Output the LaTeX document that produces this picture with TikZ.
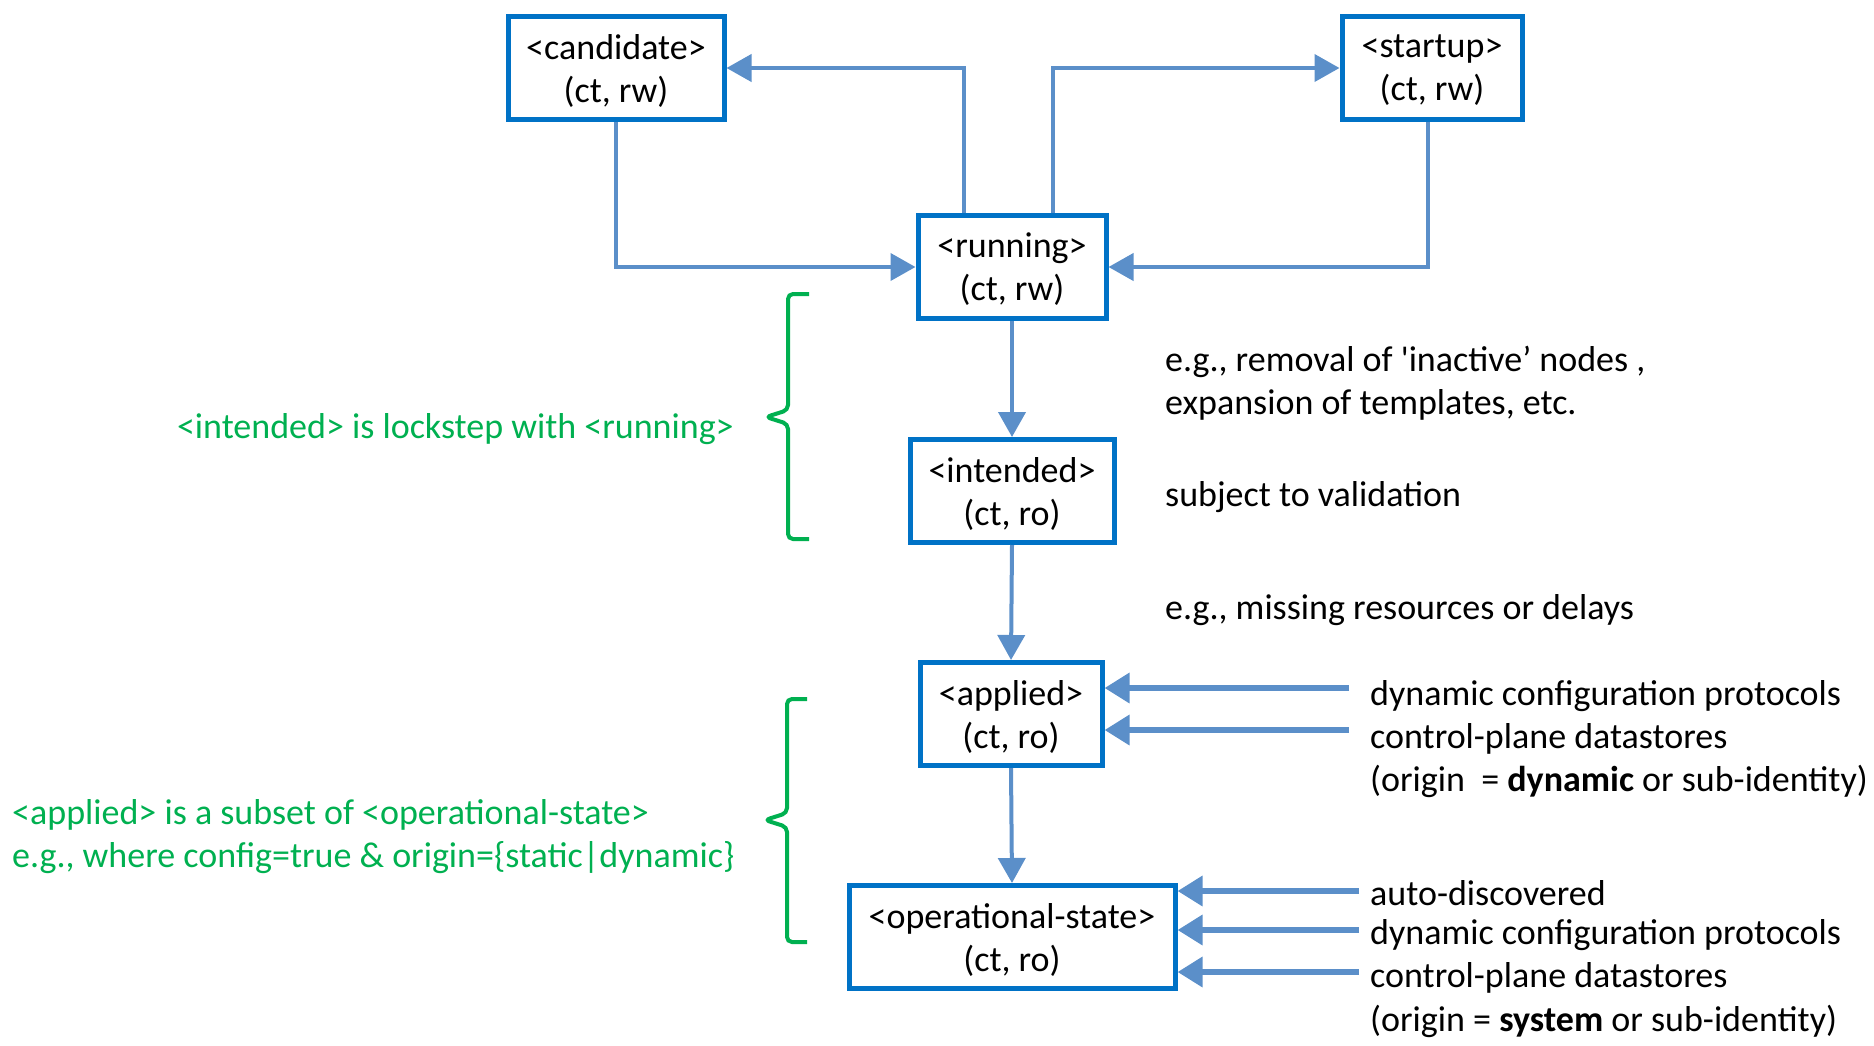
\documentclass[tikz,border=0pt]{standalone}
\usepackage{fontspec}
\setmainfont{Carlito}
\usetikzlibrary{arrows.meta, positioning}
\definecolor{boxblue}{RGB}{0,114,198}
\definecolor{flowblue}{RGB}{91,143,201}
\definecolor{notegreen}{RGB}{0,176,80}

\begin{document}
\begin{tikzpicture}[
    x=1pt, y=-1pt,
    font=\fontsize{36}{43}\selectfont,
    % Styles
    store/.style={
        draw=boxblue, line width=5pt, fill=white,
        minimum height=103pt, align=center, inner sep=0pt,
        text depth=-2pt
    },
    flow/.style={
        draw=flowblue, line width=4pt, -{Triangle[length=25pt, width=27pt]}
    },
    feed/.style={
        draw=flowblue, line width=6.5pt, -{Triangle[length=25pt, width=29pt]}
    },
    note/.style={anchor=west, inner sep=0pt},
    bracket/.style={
        draw=notegreen, line width=4pt, rounded corners=5pt
    }
]
\useasboundingbox (0,0) rectangle (1874,1045);

% The datastores
\node[store, minimum width=216pt] (candidate) at (616,68) {<candidate>\\(ct, rw)};
\node[store, minimum width=180pt] (startup) at (1432,68) {<startup>\\(ct, rw)};
\node[store, minimum width=188pt] (running) at (1012,267) {<running>\\(ct, rw)};
\node[store, minimum width=204pt] (intended) at (1012,491) {<intended>\\(ct, ro)};
\node[store, minimum width=182pt] (applied) at (1011,714) {<applied>\\(ct, ro)};
\node[store, minimum width=326pt] (operational) at (1012,937) {<operational-state>\\(ct, ro)};

% Connectors round <running>
\draw[flow] ([xshift=-48pt]running.north) |- (candidate.east);
\draw[flow] ([xshift=41pt]running.north) |- (startup.west);
\draw[flow] (candidate.south) |- (running.west);
\draw[flow] ([xshift=-4pt]startup.south) |- (running.east);

% Down the chain
\draw[flow] (running.south) -- (intended.north);
\draw[flow] (intended.south) -- (applied.north);
\draw[flow] (applied.south) -- (operational.north);

% Inputs from the right
\coordinate (in1) at (1349,688);
\coordinate (in2) at (1349,730);
\coordinate (in3) at (1359,891);
\coordinate (in4) at (1359,930);
\coordinate (in5) at (1359,972);
\draw[feed] (in1) -- (in1 -| applied.east);
\draw[feed] (in2) -- (in2 -| applied.east);
\draw[feed] (in3) -- (in3 -| operational.east);
\draw[feed] (in4) -- (in4 -| operational.east);
\draw[feed] (in5) -- (in5 -| operational.east);

% Notes
\node[note] (n1) at (1165,362) {e.g., removal of \textquotesingle{}inactive’ nodes ,};
\node[note] (n2) at (1165,405) {expansion of templates, etc.};
\node[note] (n3) at (1165,497) {subject to validation};
\node[note] (n4) at (1165,610) {e.g., missing resources or delays};
\node[note] (n5) at (1370,696) {dynamic configuration protocols};
\node[note] (n6) at (1370,739) {control-plane datastores};
\node[note] (n7) at (1370,781) {(origin\ \ = \textbf{dynamic} or sub-identity)};
\node[note] (n8) at (1370,893) {auto-discovered};
\node[note] (n9) at (1370,935) {dynamic configuration protocols};
\node[note] (n10) at (1370,978) {control-plane datastores};
\node[note] (n11) at (1370,1021) {(origin = \textbf{system} or sub-identity)};

% Green braces
\draw[bracket] (809,294) -- (788,294) -- (788,410) -- (766,417) -- (788,424) -- (788,539) -- (809,539);
\draw[bracket] (807,699) -- (787,699) -- (787,813) -- (765,820) -- (787,827) -- (787,942) -- (807,942);
\node[anchor=east, inner sep=0pt, text=notegreen] (lockstep) at (734,429) {<intended> is lockstep with <running>};
\node[anchor=west, inner sep=0pt, align=left, text=notegreen] (subset) at (12,837)
    {<applied> is a subset of <operational-state>\\e.g., where config=true \& origin=\{static|dynamic\}};

\end{tikzpicture}
\end{document}
